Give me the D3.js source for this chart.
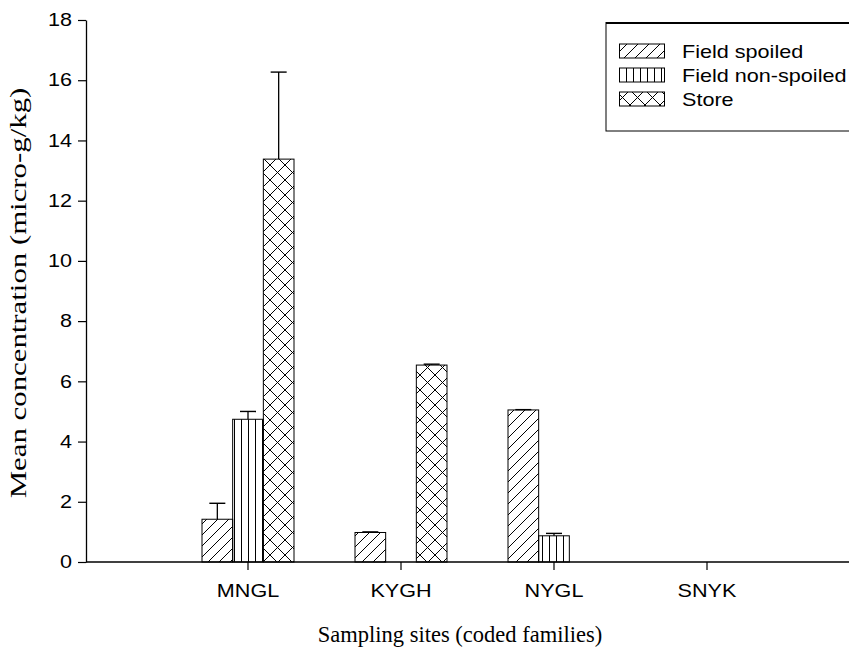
<!DOCTYPE html>
<html>
<head>
<meta charset="utf-8">
<script src="https://cdn.jsdelivr.net/npm/d3@7"></script>
<style>
  html, body { margin: 0; padding: 0; background: #fff; }
  svg { display: block; }
</style>
</head>
<body>
<svg id="chart" width="849" height="650"></svg>
<script>
// Sampling sites and mean concentrations (micro-g/kg)
const categories = ["MNGL", "KYGH", "NYGL", "SNYK"];
const seriesNames = ["Field spoiled", "Field non-spoiled", "Store"];
const fieldSpoiled = [1.42, 0.98, 5.05, 0];
const fieldNonSpoiled = [4.74, 0, 0.87, 0];
const store = [13.38, 6.54, 0, 0];
// upper ends of the error bars (mean + error)
const fieldSpoiledErr = [1.95, 1.0, 5.06, 0];
const fieldNonSpoiledErr = [5.0, 0, 0.95, 0];
const storeErr = [16.27, 6.57, 0, 0];
const yTicks = [0, 2, 4, 6, 8, 10, 12, 14, 16, 18];

const seriesValues = [fieldSpoiled, fieldNonSpoiled, store];
const seriesErrors = [fieldSpoiledErr, fieldNonSpoiledErr, storeErr];
const patternIds = ["pat-diag", "pat-vert", "pat-cross"];

const SANS = "Liberation Sans, Arial, sans-serif";
const SERIF = "Liberation Serif, Times New Roman, serif";
const SX = 1.2; // horizontal widening of the sans labels

// move a text's x/y into a transform so it can be widened about its anchor
function widen(sel) {
  sel.each(function () {
    const t = d3.select(this);
    const tx = +t.attr("x") || 0, ty = +t.attr("y") || 0;
    t.attr("x", 0).attr("y", 0)
      .attr("transform", `translate(${tx},${ty}) scale(${SX},1)`);
  });
}

const svg = d3.select("#chart");
const axisLeftX = 86, axisRightX = 849;
const yTop = 20, yBottom = 562;

const y = d3.scaleLinear().domain([0, 18]).range([yBottom, yTop]);
const x = d3.scaleBand().domain(categories).range([171.5, 783.5]).padding(0);
const bandInner = d3.scaleBand().domain(seriesNames).range([0, 92]).padding(0);
const groupOffset = (x.bandwidth() - 92) / 2;

// hatch patterns
const defs = svg.append("defs");
const pDiag = defs.append("pattern").attr("id", "pat-diag")
  .attr("patternUnits", "userSpaceOnUse").attr("width", 11).attr("height", 11);
pDiag.append("path").attr("d", "M0,11 L11,0 M-2,2 L2,-2 M9,13 L13,9")
  .attr("stroke", "#000").attr("stroke-width", 1).attr("fill", "none");

const pVert = defs.append("pattern").attr("id", "pat-vert")
  .attr("patternUnits", "userSpaceOnUse").attr("width", 7).attr("height", 10);
pVert.append("path").attr("d", "M3.5,0 L3.5,10")
  .attr("stroke", "#000").attr("stroke-width", 1).attr("fill", "none");

const pCross = defs.append("pattern").attr("id", "pat-cross")
  .attr("patternUnits", "userSpaceOnUse").attr("width", 15).attr("height", 15);
pCross.append("path").attr("d", "M0,0 L15,15 M0,15 L15,0 M-2,13 L2,17 M13,-2 L17,2 M-2,2 L2,-2 M13,17 L17,13")
  .attr("stroke", "#000").attr("stroke-width", 1).attr("fill", "none");

// bars
const barData = [];
categories.forEach((c, i) => {
  seriesNames.forEach((s, j) => {
    barData.push({ cat: c, series: s, j, value: seriesValues[j][i], err: seriesErrors[j][i] });
  });
});
const shown = barData.filter(d => d.value > 0);

// error bars (upward whisker with cap)
const eg = svg.append("g");
shown.filter(d => d.err > d.value).forEach(d => {
  const cx = x(d.cat) + groupOffset + bandInner(d.series) + bandInner.bandwidth() / 2;
  eg.append("line").attr("x1", cx).attr("x2", cx)
    .attr("y1", y(d.value)).attr("y2", y(d.err))
    .attr("stroke", "#000").attr("stroke-width", 1.3);
  eg.append("line").attr("x1", cx - 8).attr("x2", cx + 8)
    .attr("y1", y(d.err)).attr("y2", y(d.err))
    .attr("stroke", "#000").attr("stroke-width", 1.4);
});

svg.append("g").selectAll("rect").data(shown).join("rect")
  .attr("x", d => x(d.cat) + groupOffset + bandInner(d.series))
  .attr("y", d => y(d.value))
  .attr("width", bandInner.bandwidth())
  .attr("height", d => y(0) - y(d.value))
  .attr("fill", d => `url(#${patternIds[d.j]})`)
  .attr("stroke", "#000").attr("stroke-width", 1);

// y axis
const yAxis = svg.append("g").attr("transform", `translate(${axisLeftX},0)`)
  .call(d3.axisLeft(y).tickValues(yTicks).tickSize(8).tickSizeOuter(0).tickPadding(6));
yAxis.select(".domain").attr("stroke", "#000").attr("stroke-width", 1.3);
yAxis.selectAll(".tick line").attr("stroke", "#000").attr("stroke-width", 1.2);
yAxis.selectAll(".tick text").attr("font-family", SANS)
  .attr("font-size", 18).attr("fill", "#000").call(widen);

// x axis
const xAxis = svg.append("g").attr("transform", `translate(0,${yBottom})`)
  .call(d3.axisBottom(x).tickSize(8).tickSizeOuter(0).tickPadding(14));
xAxis.select(".domain").remove();
xAxis.append("line").attr("x1", axisLeftX).attr("x2", axisRightX)
  .attr("y1", 0).attr("y2", 0).attr("stroke", "#000").attr("stroke-width", 1.6);
xAxis.selectAll(".tick line").attr("stroke", "#000").attr("stroke-width", 1.2);
xAxis.selectAll(".tick text").attr("font-family", SANS)
  .attr("font-size", 18).attr("fill", "#000").call(widen);

// axis titles
svg.append("text")
  .attr("transform", `translate(26,${(yTop + yBottom) / 2 + 2}) rotate(-90) scale(1.37,1)`)
  .attr("text-anchor", "middle")
  .attr("font-family", SERIF)
  .attr("font-size", 22.5).attr("fill", "#000")
  .text("Mean concentration (micro-g/kg)");

svg.append("text")
  .attr("x", 460).attr("y", 642)
  .attr("text-anchor", "middle")
  .attr("font-family", SERIF)
  .attr("font-size", 22.5).attr("fill", "#000")
  .text("Sampling sites (coded families)");

// legend
const lg = svg.append("g");
lg.append("rect").attr("x", 606).attr("y", 22.5).attr("width", 260).attr("height", 108.5)
  .attr("fill", "#fff").attr("stroke", "#000").attr("stroke-width", 1);
lg.append("line").attr("x1", 606).attr("x2", 849).attr("y1", 23.5).attr("y2", 23.5)
  .attr("stroke", "#000").attr("stroke-width", 1.2);
const rowY = d3.scalePoint().domain(seriesNames).range([51, 99]);
seriesNames.forEach((s, j) => {
  lg.append("rect").attr("x", 619.5).attr("y", rowY(s) - 7).attr("width", 45).attr("height", 14)
    .attr("fill", `url(#${patternIds[j]})`).attr("stroke", "#000").attr("stroke-width", 1);
  lg.append("text").attr("x", 682).attr("y", rowY(s) + 6.5)
    .attr("font-family", SANS)
    .attr("font-size", 18).attr("fill", "#000").text(s).call(widen);
});
</script>
</body>
</html>
